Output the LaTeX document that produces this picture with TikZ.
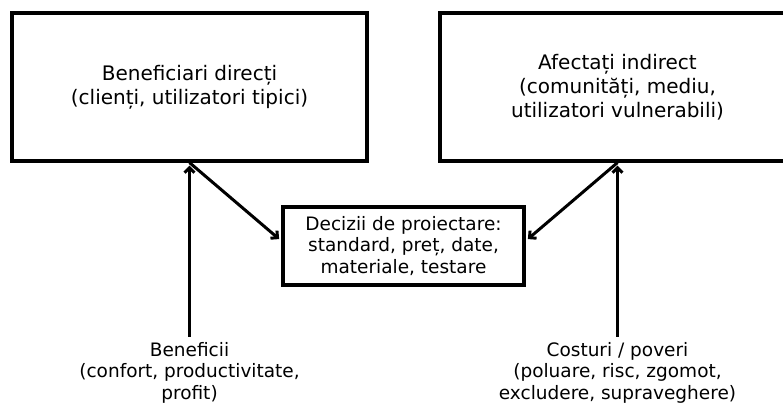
\documentclass[tikz,border=0pt]{standalone}
\usepackage{fontspec}
\setmainfont{DejaVu Sans}
\usepackage{pgf,tikz}
\usetikzlibrary{arrows.meta,positioning}

\begin{document}
\begin{tikzpicture}[x=1pt,y=1pt,
  bigbox/.style={draw, line width=3.2pt, minimum width=355pt, minimum height=148pt, align=center, font=\fontsize{20}{24}\selectfont},
  midbox/.style={draw, line width=3.2pt, minimum width=241pt, minimum height=78pt, align=center, font=\fontsize{18.5}{21.5}\selectfont, inner sep=0pt},
  sidetext/.style={align=center, font=\fontsize{18.5}{21.5}\selectfont, inner sep=0pt},
  arr/.style={line width=3pt, -{Straight Barb[length=5pt,width=10pt,line width=3pt]}}]
\useasboundingbox (0,0) rectangle (783,403);

\node[bigbox] (ben) at (189.5, 316) {Beneficiari direcți\\(clienți, utilizatori tipici)};
\node[bigbox] (afe) at (617.5, 316) {Afectați indirect\\(comunități, mediu,\\utilizatori vulnerabili)};
\node[midbox] (dec) at (403.5, 157) {Decizii de proiectare:\\standard, preț, date,\\materiale, testare};

\node[sidetext, anchor=north] (benef) at (189.5, 61) {Beneficii\\(confort, productivitate,\\profit)};
\node[sidetext, anchor=north] (cost) at (617.5, 61) {Costuri / poveri\\(poluare, risc, zgomot,\\excludere, supraveghere)};

\coordinate (decw) at ([yshift=5]dec.west);
\coordinate (dece) at ([yshift=5]dec.east);

\draw[arr, shorten >=3pt] (ben.south) -- (decw);
\draw[arr, shorten >=3pt] (afe.south) -- (dece);
\draw[arr, shorten <=5pt, shorten >=3pt] (benef.north) -- (ben.south);
\draw[arr, shorten <=5pt, shorten >=3pt] (cost.north) -- (afe.south);
\end{tikzpicture}
\end{document}
